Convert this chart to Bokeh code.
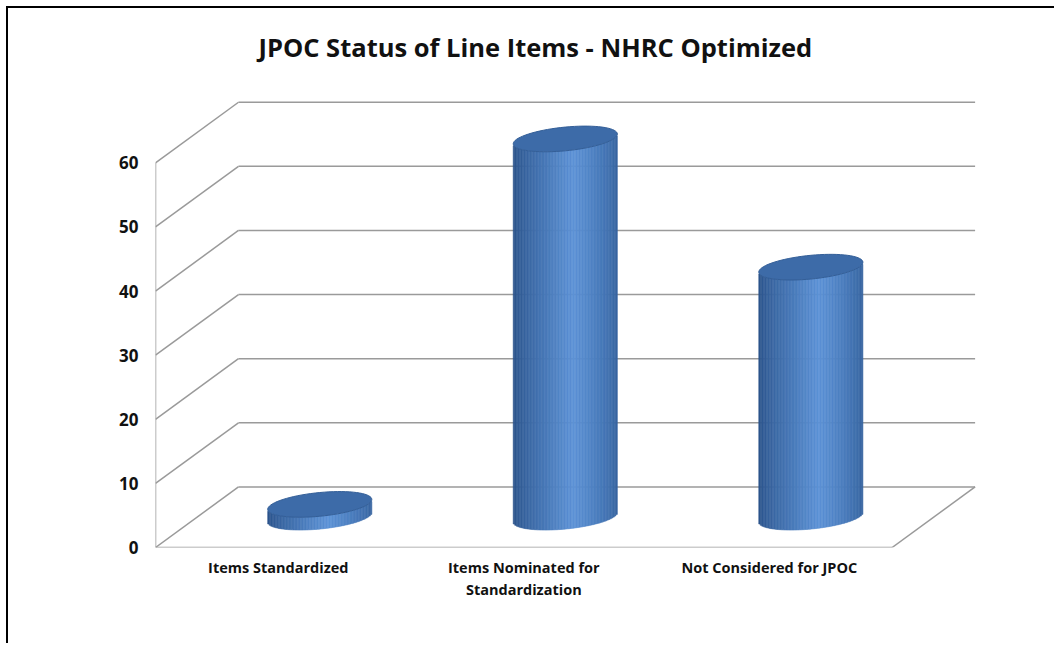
import math
from bokeh.plotting import figure
from bokeh.models import FixedTicker, Title
from bokeh.embed import file_html
from bokeh.resources import INLINE

# ---- data ----
categories = ["Items Standardized", "Items Nominated for\nStandardization", "Not Considered for JPOC"]
values = [2, 59, 39]
y_ticks = [0, 10, 20, 30, 40, 50, 60]
title_text = "JPOC Status of Line Items - NHRC Optimized"

# ---- 3D geometry (data units) ----
DX = 0.338      # depth offset in x (category units)
DY = 9.45       # depth offset in y (value units)
R = 0.212       # cylinder radius (category units)
B = 1.85        # ellipse half height (value units)
S = 3.6         # ellipse tilt (value units per category unit)
N_STRIPS = 70
GRID = "#9a9a9a"
FONT = "Open Sans"

p = figure(frame_width=825, frame_height=452,
           min_border_left=147, min_border_right=74,
           min_border_top=87, min_border_bottom=96,
           x_range=(0, 3.36), y_range=(0, 70.5),
           output_backend="svg", toolbar_location=None,
           background_fill_color="white", border_fill_color="white")
p.outline_line_color = None
p.xgrid.visible = False
p.ygrid.visible = False
p.styles = {"border-left": "2px solid #000", "border-top": "2px solid #000",
            "margin-left": "6px", "margin-top": "6px"}

# chart title (outermost above panel)
p.title.text = title_text
p.title.align = "left"
p.title.offset = 103
p.title.standoff = 0
p.title.text_font = FONT
p.title.text_font_size = "25.5px"
p.title.text_font_style = "bold"
p.title.text_color = "#111111"

# spacer between the title and the plot frame
p.add_layout(Title(text=" ", text_font_size="27px", standoff=0), "above")

# left axis
p.yaxis.ticker = FixedTicker(ticks=y_ticks)
p.yaxis.axis_line_color = None
p.yaxis.major_tick_line_color = None
p.yaxis.minor_tick_line_color = None
p.yaxis.major_tick_out = 0
p.yaxis.major_label_standoff = 17
p.yaxis.major_label_text_font = FONT
p.yaxis.major_label_text_font_style = "bold"
p.yaxis.major_label_text_font_size = "17px"
p.yaxis.major_label_text_color = "#111111"

# bottom axis
n = len(categories)
xt = [i + 0.5 for i in range(n)]
p.xaxis.ticker = FixedTicker(ticks=xt)
p.xaxis.major_label_overrides = {t: c for t, c in zip(xt, categories)}
p.xaxis.axis_line_color = None
p.xaxis.major_tick_line_color = None
p.xaxis.minor_tick_line_color = None
p.xaxis.major_tick_out = 0
p.xaxis.major_label_standoff = 10
p.xaxis.major_label_text_font = FONT
p.xaxis.major_label_text_font_style = "bold"
p.xaxis.major_label_text_font_size = "14.5px"
p.xaxis.major_label_text_color = "#111111"

# ---- walls ----
ymax = y_ticks[-1]
# back wall horizontal grid
p.segment(x0=[DX] * len(y_ticks), y0=[t + DY for t in y_ticks],
          x1=[n + DX] * len(y_ticks), y1=[t + DY for t in y_ticks],
          line_color=GRID, line_width=1.5)
# side wall diagonals
p.segment(x0=[0] * len(y_ticks), y0=y_ticks,
          x1=[DX] * len(y_ticks), y1=[t + DY for t in y_ticks],
          line_color=GRID, line_width=1.5)
# front-left vertical edge, floor front edge, floor right diagonal
p.segment(x0=[0, 0, n], y0=[0, 0, 0], x1=[0, n, n + DX], y1=[ymax, 0, DY],
          line_color=GRID, line_width=1.5)

# ---- cylinders ----
def mix(c1, c2, f):
    return "#%02x%02x%02x" % tuple(int(round(a + (b - a) * f)) for a, b in zip(c1, c2))

DARK_L = (0x2a, 0x52, 0x8a)
LIGHT = (0x5c, 0x92, 0xd6)
DARK_R = (0x35, 0x62, 0x9e)
PEAK = 0.58

ql, qr, qb, qt, qc = [], [], [], [], []
tops_x, tops_y = [], []
for i, v in enumerate(values):
    cx = i + 0.5 + DX / 2
    base = DY / 2
    w = 2 * R / N_STRIPS
    for k in range(N_STRIPS):
        x0 = cx - R + k * w
        xm = x0 + w / 2
        u = (xm - cx) / R
        arc = B * math.sqrt(max(0.0, 1 - u * u))
        sh = S * (xm - cx)
        t = (k + 0.5) / N_STRIPS
        if t < PEAK:
            f = (t / PEAK) ** 0.8
            col = mix(DARK_L, LIGHT, f)
        else:
            f = ((1 - t) / (1 - PEAK)) ** 0.7
            col = mix(DARK_R, LIGHT, f)
        ql.append(x0)
        qr.append(x0 + w)
        qb.append(base + sh - arc)
        qt.append(v + base + sh - arc)
        qc.append(col)
    xs, ys = [], []
    for j in range(73):
        th = 2 * math.pi * j / 72
        xs.append(cx + R * math.cos(th))
        ys.append(v + base + S * R * math.cos(th) + B * math.sin(th))
    tops_x.append(xs)
    tops_y.append(ys)

p.quad(left=ql, right=qr, bottom=qb, top=qt, fill_color=qc, line_color=qc, line_width=0.6)
p.patches(xs=tops_x, ys=tops_y, fill_color="#3d6ba8", line_color="#345f98", line_width=1)

open("out.html", "w").write(file_html(p, INLINE))
